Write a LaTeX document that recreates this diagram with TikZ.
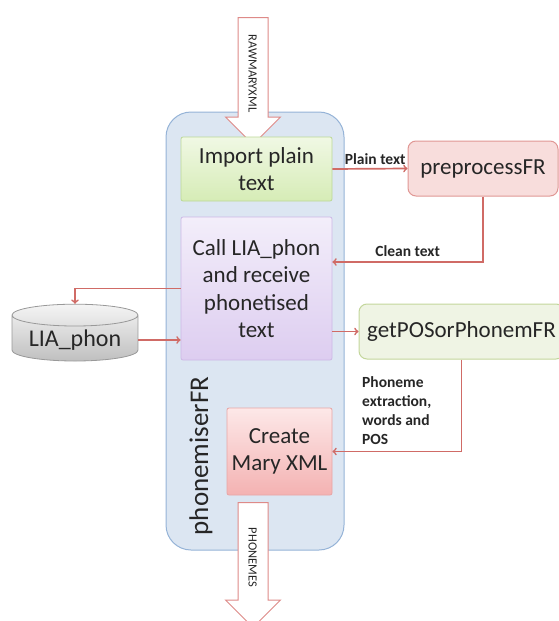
\documentclass[tikz,border=0pt]{standalone}
\usepackage{fontspec}
\setmainfont{Carlito}
\usetikzlibrary{positioning,shapes.geometric,shapes.arrows}

\definecolor{contfill}{HTML}{DCE6F2}
\definecolor{contline}{HTML}{95B3D7}
\definecolor{conncol}{HTML}{D06B66}
\definecolor{arrline}{HTML}{DE8A88}
\definecolor{txt}{HTML}{262626}
\definecolor{impline}{HTML}{BCD897}
\definecolor{imptop}{HTML}{F0F8E4}
\definecolor{impbot}{HTML}{D6ECB6}
\definecolor{callline}{HTML}{CDB8E6}
\definecolor{calltop}{HTML}{F3EEFA}
\definecolor{callbot}{HTML}{DDCDF0}
\definecolor{creline}{HTML}{E8A5A5}
\definecolor{cretop}{HTML}{FDE8E8}
\definecolor{crebot}{HTML}{F4B2B2}
\definecolor{preline}{HTML}{E09794}
\definecolor{prefill}{HTML}{F8DDDC}
\definecolor{gpline}{HTML}{C3D69B}
\definecolor{gpfill}{HTML}{EFF4E4}

\begin{document}
\begin{tikzpicture}[x=1pt, y=-1pt,
    framenode/.style={rectangle, rounded corners=25pt, draw=contline, fill=contfill, line width=1pt, minimum width=178pt, minimum height=438pt},
    stepbox/.style={rectangle, rounded corners=2pt, line width=0.8pt, text=txt, align=center, inner sep=0pt, font=\fontsize{23}{27.5}\selectfont},
    funcbox/.style={rectangle, rounded corners=8pt, line width=1pt, text=txt, inner sep=0pt, minimum height=55pt, font=\fontsize{23}{27.5}\selectfont},
    blockarrow/.style={single arrow, draw=arrline, fill=white, line width=1pt, rotate=-90, single arrow head extend=12.5pt, text height=9pt, text depth=0pt, inner ysep=10pt, inner xsep=2pt, text=txt, font=\fontsize{12.5}{12.5}\selectfont},
    dbnode/.style={cylinder, shape border rotate=90, aspect=0.22, draw=black!40, line width=0.8pt, top color=black!4, bottom color=black!25, text=txt, minimum width=126pt, minimum height=56pt, font=\fontsize{24}{28}\selectfont},
    conn/.style={->, draw=conncol, line width=1.7pt},
    lbl/.style={text=txt, inner sep=0pt, font=\bfseries\fontsize{15.5}{19}\selectfont}
   ]
   \useasboundingbox (0,0) rectangle (558,621);

   \node[framenode] (frame) at (255,331) {};
   \node[text=txt, rotate=90, font=\fontsize{27}{27}\selectfont] (fr) at (201,456) {phonemiserFR};

   \node[blockarrow, minimum height=127pt, minimum width=53pt] (raw) at (253,73.5) {RAWMARYXML};
   \node[blockarrow, minimum height=125pt, minimum width=53pt] (out) at (253,557.5) {PHONEMES};

   \node[stepbox, draw=impline, top color=imptop, bottom color=impbot, minimum width=151pt, minimum height=64pt] (imp) at (256.5,169) {Import plain\\text};
   \node[stepbox, draw=callline, top color=calltop, bottom color=callbot, minimum width=151pt, minimum height=143pt] (call) at (256.5,288.5) {Call LIA\_phon\\and receive\\phonetised\\text};
   \node[stepbox, draw=creline, top color=cretop, bottom color=crebot, minimum width=105pt, minimum height=87pt] (cre) at (279.5,451.5) {Create\\Mary XML};

   \node[funcbox, draw=preline, fill=prefill, minimum width=150pt] (pre) at (483,168.5) {preprocessFR};
   \node[funcbox, draw=gpline, fill=gpfill, minimum width=205pt] (gp) at (461.5,331.5) {getPOSorPhonemFR};
   \node[dbnode] (lia) at (75,340) {LIA\_phon};

   \draw[conn] (imp.east) -- node[lbl, pos=0.57, above=3pt] {Plain text} (pre.west);
   \draw[conn] (pre.south) |- node[lbl, pos=0.75, above=5pt] {Clean text} ([yshift=26.5pt]call.east);
   \draw[conn] (call.west) -| (lia.north);
   \draw[conn] (lia.east) -- (call.west |- lia.east);
   \draw[conn] (call.east |- gp.west) -- (gp.west);
   \draw[conn] (gp.south) |- (cre.east);
   \node[lbl, align=left, anchor=north west] (phlbl) at (362,376) {Phoneme\\extraction,\\words and\\POS};
\end{tikzpicture}
\end{document}
